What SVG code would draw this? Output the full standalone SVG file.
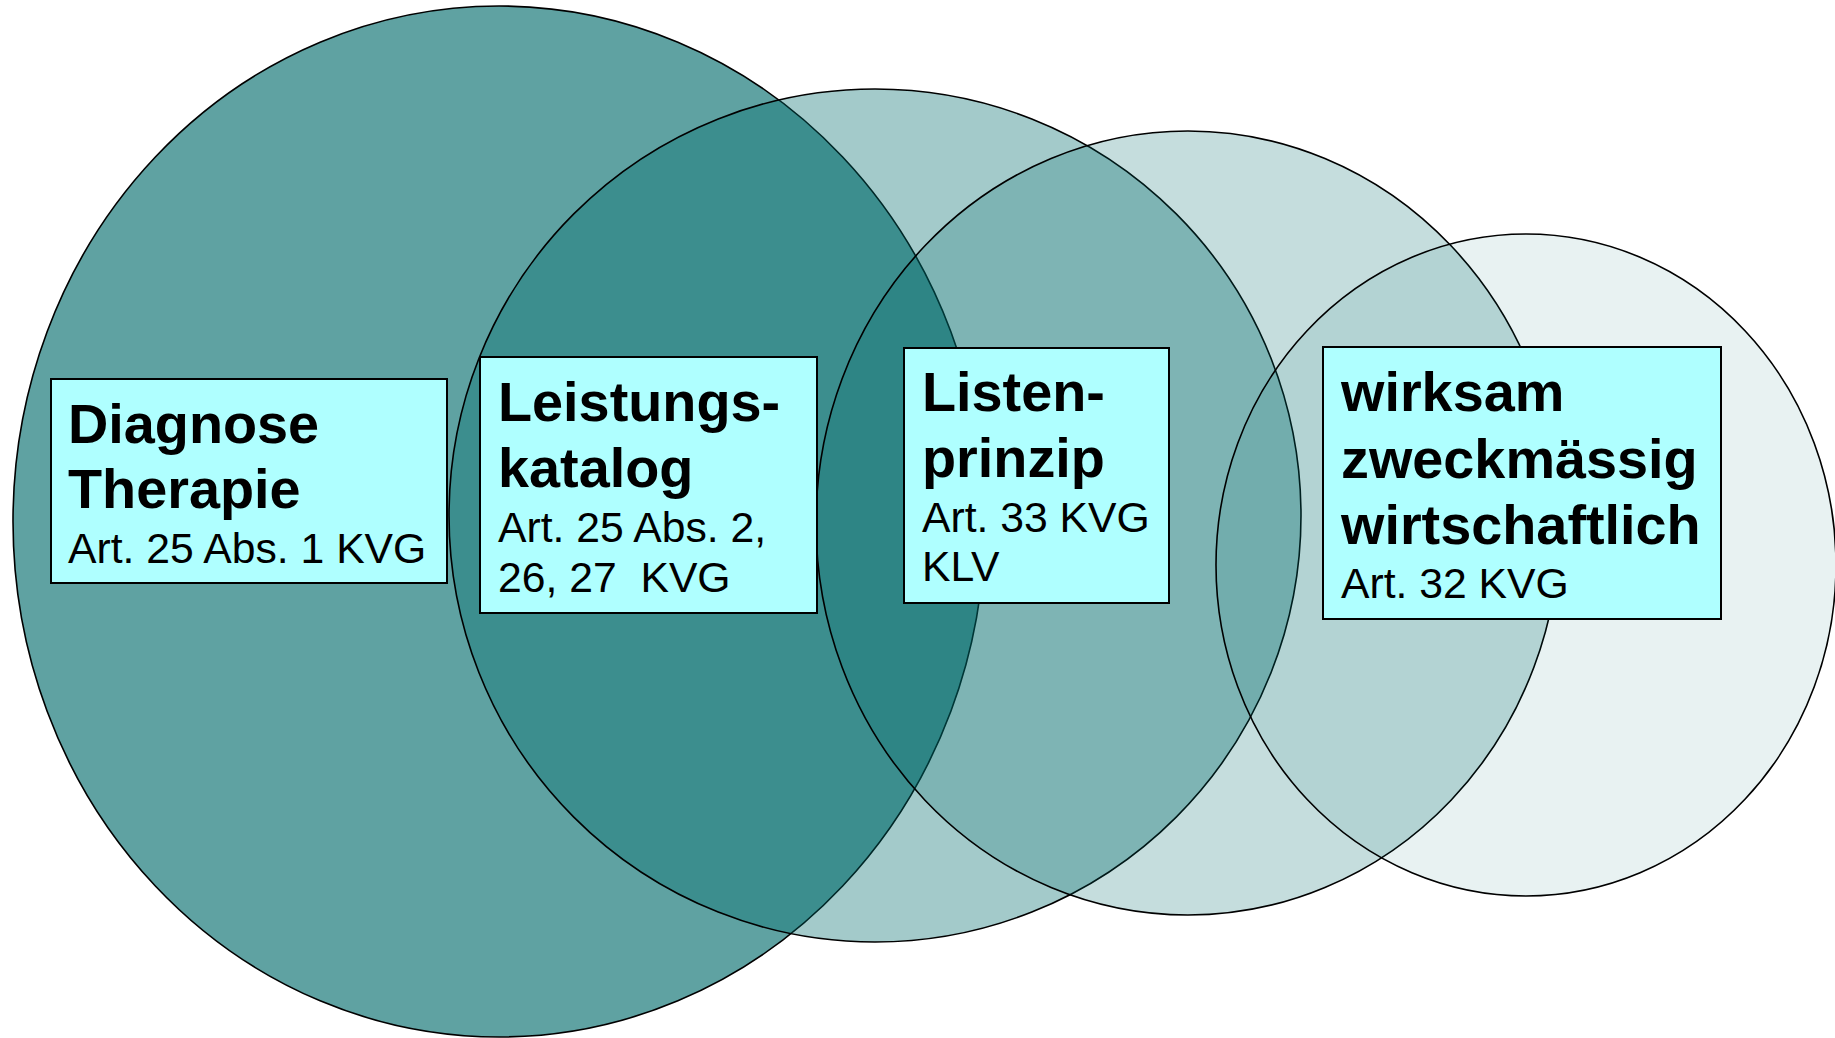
<svg xmlns="http://www.w3.org/2000/svg" width="1835" height="1038" viewBox="0 0 1835 1038">
  <style>
    .c { stroke: #000; stroke-width: 1.6; fill: #006B6B; }
    .box { fill: #AFFFFF; stroke: #000; stroke-width: 2; }
    .h { font-family: "Liberation Sans", Arial, sans-serif; font-weight: bold; font-size: 55.8px; fill: #000; }
    .s { font-family: "Liberation Sans", Arial, sans-serif; font-size: 42.7px; fill: #000; }
  </style>
  <rect width="1835" height="1038" fill="#fff"/>
  <g id="circles">
    <ellipse id="circle1" class="c" cx="499" cy="521.5" rx="486" ry="515.5" fill-opacity="0.627"/>
    <ellipse id="circle2" class="c" cx="875" cy="515.5" rx="426" ry="426.5" fill-opacity="0.36"/>
    <ellipse id="circle3" class="c" cx="1188" cy="523" rx="372" ry="392" fill-opacity="0.227"/>
    <ellipse id="circle4" class="c" cx="1526" cy="565" rx="310" ry="331" fill-opacity="0.09"/>
  </g>
  <g id="connectors"></g>
  <g id="node-diagnose">
    <rect class="box" x="51" y="379" width="396" height="204"/>
    <text class="h" x="68" y="443">Diagnose</text>
    <text class="h" x="68" y="508">Therapie</text>
    <text class="s" x="68" y="563">Art. 25 Abs. 1 KVG</text>
  </g>
  <g id="node-leistungskatalog">
    <rect class="box" x="480" y="357" width="337" height="256"/>
    <text class="h" x="498" y="421">Leistungs-</text>
    <text class="h" x="498" y="487">katalog</text>
    <text class="s" x="498" y="542">Art. 25 Abs. 2,</text>
    <text class="s" x="498" y="592" xml:space="preserve">26, 27  KVG</text>
  </g>
  <g id="node-listenprinzip">
    <rect class="box" x="904" y="348" width="265" height="255"/>
    <text class="h" x="922" y="411">Listen-</text>
    <text class="h" x="922" y="477">prinzip</text>
    <text class="s" x="922" y="532">Art. 33 KVG</text>
    <text class="s" x="922" y="581">KLV</text>
  </g>
  <g id="node-wzw">
    <rect class="box" x="1323" y="347" width="398" height="272"/>
    <text class="h" x="1341" y="411">wirksam</text>
    <text class="h" x="1341" y="478">zweckmässig</text>
    <text class="h" x="1341" y="544">wirtschaftlich</text>
    <text class="s" x="1341" y="598">Art. 32 KVG</text>
  </g>
</svg>
